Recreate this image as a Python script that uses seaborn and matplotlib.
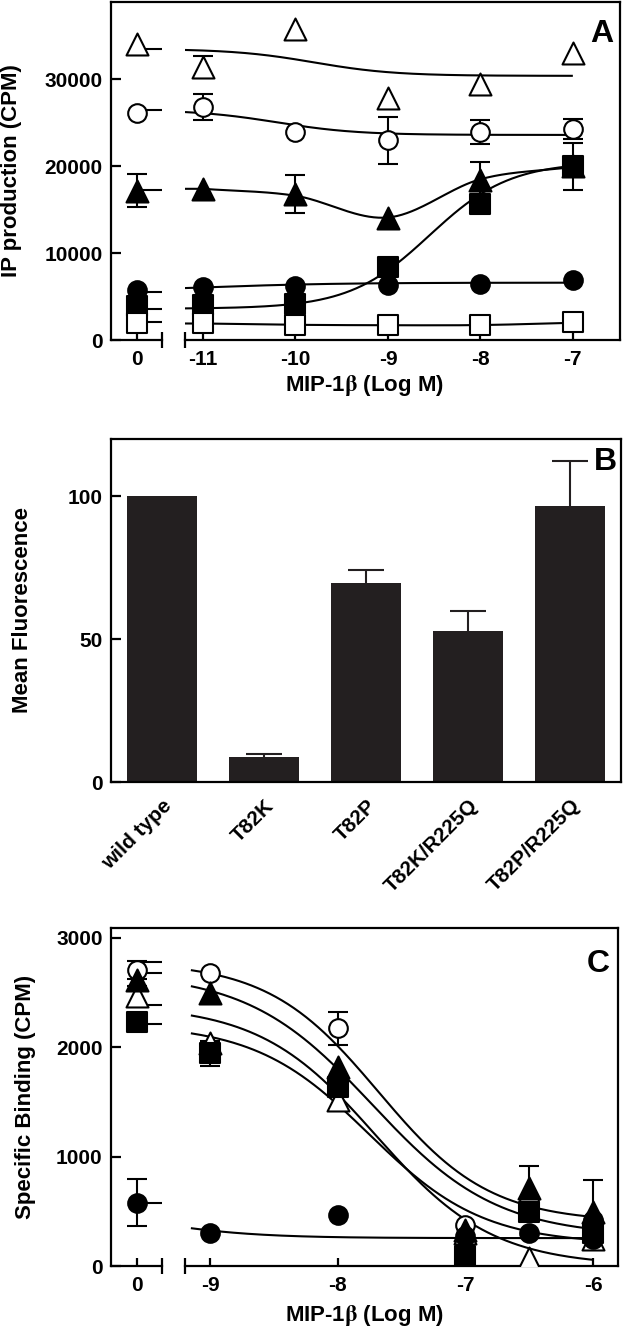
import numpy as np
import matplotlib
matplotlib.use("Agg")
import matplotlib.pyplot as plt
import seaborn as sns

# ---------------- panel A: IP production (CPM) ----------------
dose_a = [-11, -10, -9, -8, -7]

a_otri = [31400, 35800, 27900, 29500, 33000]
a_otri_err = [1300, 0, 0, 0, 0]
a_otri_zero = [34100, 0]
a_otri_fit = [33500, 30400, -9.8, 1.0]      # start, end, logEC50, slope

a_ocir = [26800, 23900, 23000, 23900, 24300]
a_ocir_err = [1500, 0, 2700, 1400, 1150]
a_ocir_zero = [26100, 0]
a_ocir_fit = [26500, 23600, -10.2, 1.0]

a_ftri = [17400, 16800, 14000, 18400, 20000]
a_ftri_err = [0, 2200, 0, 2100, 0]
a_ftri_zero = [17200, 1900]
a_ftri_knots = [17400, 16600, 14100, 18500, 19900]
a_ftri_base = 17300

a_fcir = [6150, 6200, 6300, 6500, 6900]
a_fcir_err = [0, 0, 0, 0, 0]
a_fcir_zero = [5750, 0]
a_fcir_fit = [5500, 6600, -11.0, 0.6]

a_fsq = [4000, 4200, 8400, 15700, 20000]
a_fsq_err = [0, 0, 0, 0, 2700]
a_fsq_zero = [3900, 0]
a_fsq_fit = [3600, 20500, -8.55, 1.0]

a_osq = [1900, 1700, 1700, 1700, 2100]
a_osq_err = [0, 0, 0, 0, 0]
a_osq_zero = [1900, 0]
a_osq_knots = [1900, 1750, 1700, 1720, 1980]
a_osq_base = 2100

# ---------------- panel B: surface expression ----------------
b_labels = ["wild type", "T82K", "T82P", "T82K/R225Q", "T82P/R225Q"]
b_values = [100, 8.8, 69.5, 52.9, 96.5]
b_errors = [0, 0.9, 4.5, 6.8, 15.8]

# ---------------- panel C: specific binding (CPM) ----------------
dose_c = [-9, -8, -7, -6.5, -6]

c_otri = [2037, 1518, 300, 70, 250]
c_otri_err = [0, 0, 0, 0, 0]
c_otri_zero = [2470, 90]
c_otri_fit = [2387, 0, -7.70, 0.95]

c_ocir = [2677, 2174, 375, 600, 420]
c_ocir_err = [0, 150, 0, 0, 0]
c_ocir_zero = [2707, 85]
c_ocir_fit = [2783, 400, -7.68, 1.0]

c_fsq = [1945, 1640, 90, 497, 302]
c_fsq_err = [115, 0, 0, 0, 0]
c_fsq_zero = [2230, 0]
c_fsq_fit = [2213, 200, -7.755, 0.97]

c_ftri = [2494, 1823, 330, 711, 497]
c_ftri_err = [0, 0, 0, 200, 290]
c_ftri_zero = [2616, 0]
c_ftri_fit = [2683, 270, -7.73, 0.89]

c_fcir = [299, 466, 270, 305, 250]
c_fcir_err = [0, 0, 0, 0, 0]
c_fcir_zero = [579, 215]
c_fcir_fit = [579, 255, -9.56, 1.0]

# ---------------- style ----------------
sns.set_theme(style="ticks", rc={
    "axes.linewidth": 1.6,
    "axes.edgecolor": "black",
    "axes.labelcolor": "black",
    "text.color": "black",
    "xtick.color": "black",
    "ytick.color": "black",
    "axes.unicode_minus": False,
    "lines.solid_capstyle": "butt",
    "mathtext.fontset": "stix",
})
plt.rcParams["font.family"] = ["Liberation Sans", "DejaVu Sans"]
plt.rcParams["font.weight"] = "bold"

W, H = 626, 1327
LW = 1.5
MARK = {"otri": ("^", "white", 250), "ftri": ("^", "black", 250),
        "ocir": ("o", "white", 180), "fcir": ("o", "black", 180),
        "osq": ("s", "white", 200), "fsq": ("s", "black", 200)}
XLABEL = r"MIP-1$\mathrm{\beta}$ (Log M)"


def box(l, t, r, b):
    return [l / W, 1 - b / H, (r - l) / W, (b - t) / H]


def logistic(x, start, end, mid, slope):
    return start + (end - start) / (1 + 10 ** ((mid - x) * slope))


def smooth(xk, yk, n=40):
    # catmull-rom line through the points
    xk, yk = np.asarray(xk, float), np.asarray(yk, float)
    px = np.concatenate([[2 * xk[0] - xk[1]], xk, [2 * xk[-1] - xk[-2]]])
    py = np.concatenate([[2 * yk[0] - yk[1]], yk, [2 * yk[-1] - yk[-2]]])
    t = np.linspace(0, 1, n)
    xs, ys = [], []
    for i in range(1, len(px) - 2):
        for arr, out in ((px, xs), (py, ys)):
            p0, p1, p2, p3 = arr[i - 1:i + 3]
            out.append(0.5 * (2 * p1 + (-p0 + p2) * t
                              + (2 * p0 - 5 * p1 + 4 * p2 - p3) * t ** 2
                              + (-p0 + 3 * p1 - 3 * p2 + p3) * t ** 3))
    return np.concatenate(xs), np.concatenate(ys)


def broken_axes(fig, l, t, r, b, split_l, split_r, xlim1, xticks1, ylim, yticks, xpad):
    frame = fig.add_axes(box(l, t, r, b))
    frame.set_xlim(0, 1)
    frame.set_ylim(0, 1)
    frame.set_xticks([])
    frame.set_yticks([])
    frame.spines["bottom"].set_visible(False)
    frame.patch.set_visible(False)
    ax0 = fig.add_axes(box(l, t, split_l, b))
    ax1 = fig.add_axes(box(split_r, t, r, b))
    for ax in (ax0, ax1):
        ax.patch.set_visible(False)
        for s in ("top", "left", "right"):
            ax.spines[s].set_visible(False)
        ax.set_ylim(ylim)
        ax.tick_params(axis="x", which="major", direction="in", length=6,
                       width=1.6, labelsize=15, pad=xpad)
        ax.tick_params(axis="x", which="minor", direction="inout", length=11, width=1.6)
    ax0.set_xlim(-1, 1)
    ax0.set_xticks([0])
    ax0.set_xticklabels(["0"])
    ax0.set_xticks([1], minor=True)
    ax0.set_yticks(yticks)
    ax0.set_yticklabels([str(v) for v in yticks])
    ax0.tick_params(axis="y", direction="in", length=7, width=1.6, labelsize=15, pad=6)
    ax1.set_xlim(xlim1)
    ax1.set_xticks(xticks1)
    ax1.set_xticklabels([f"{v:g}" for v in xticks1])
    ax1.set_xticks([xlim1[0]], minor=True)
    ax1.tick_params(axis="y", left=False, labelleft=False)
    for ax in (ax0, ax1):
        ax.set_xlabel("")
        ax.set_ylabel("")
    return frame, ax0, ax1


def draw_series(ax0, ax1, key, dose, vals, errs, zero, cx, cy, base):
    mk, face, size = MARK[key]
    dose = np.asarray(dose, float)
    vals = np.asarray(vals, float)
    errs = np.asarray(errs, float)
    sns.lineplot(x=cx, y=cy, ax=ax1, color="black", lw=LW, sort=False, zorder=2)
    ax0.hlines(base, 0, 1, color="black", lw=LW, zorder=2)
    m = errs > 0
    if m.any():
        ax1.errorbar(dose[m], vals[m], yerr=errs[m], fmt="none", ecolor="black",
                     elinewidth=LW, capsize=7.5, capthick=LW, zorder=2.5)
    if zero[1] > 0:
        ax0.errorbar([0], [zero[0]], yerr=[zero[1]], fmt="none", ecolor="black",
                     elinewidth=LW, capsize=7.5, capthick=LW, zorder=2.5)
    sns.scatterplot(x=dose, y=vals, ax=ax1, marker=mk, s=size, color=face,
                    edgecolor="black", linewidth=LW, zorder=3, legend=False)
    sns.scatterplot(x=[0.0], y=[zero[0]], ax=ax0, marker=mk, s=size, color=face,
                    edgecolor="black", linewidth=LW, zorder=3, legend=False)


fig = plt.figure(figsize=(W / 100, H / 100), dpi=100)

# ---------------- panel A ----------------
xl_a = (-11.195, -6.49)
frA, a0, a1 = broken_axes(fig, 111, 2, 620, 340, 162, 185, xl_a, dose_a,
                          (0, 38900), [0, 10000, 20000, 30000], 7)
xa = np.linspace(xl_a[0], -7, 200)
for key, vals, errs, zero, fit in [
        ("fcir", a_fcir, a_fcir_err, a_fcir_zero, a_fcir_fit),
        ("fsq", a_fsq, a_fsq_err, a_fsq_zero, a_fsq_fit)]:
    draw_series(a0, a1, key, dose_a, vals, errs, zero, xa, logistic(xa, *fit), fit[0])
for key, vals, errs, zero, knots, base in [
        ("ftri", a_ftri, a_ftri_err, a_ftri_zero, a_ftri_knots, a_ftri_base),
        ("osq", a_osq, a_osq_err, a_osq_zero, a_osq_knots, a_osq_base)]:
    sx, sy = smooth(dose_a, knots)
    sx = np.concatenate([[xl_a[0]], sx])
    sy = np.concatenate([[knots[0]], sy])
    draw_series(a0, a1, key, dose_a, vals, errs, zero, sx, sy, base)
for key, vals, errs, zero, fit in [
        ("ocir", a_ocir, a_ocir_err, a_ocir_zero, a_ocir_fit),
        ("otri", a_otri, a_otri_err, a_otri_zero, a_otri_fit)]:
    draw_series(a0, a1, key, dose_a, vals, errs, zero, xa, logistic(xa, *fit), fit[0])
frA.text(0.986, 0.882, "A", transform=frA.transAxes, ha="right", va="baseline",
         fontsize=23, fontweight="bold")

# ---------------- panel B ----------------
axB = fig.add_axes(box(111, 439, 621, 782))
sns.barplot(x=b_labels, y=b_values, color="#231f20", saturation=1, width=0.69,
            errorbar=None, linewidth=0, ax=axB)
bx = np.arange(len(b_labels))
be = np.asarray(b_errors, float)
mb = be > 0
eb = axB.errorbar(bx[mb], np.asarray(b_values)[mb], yerr=[np.zeros(mb.sum()), be[mb]],
                  fmt="none", ecolor="#231f20", elinewidth=LW, capsize=13, capthick=LW)
eb[1][0].set_visible(False)   # no cap on the bar top
axB.set_xlim(-0.5, 4.5)
axB.set_ylim(0, 120)
axB.set_yticks([0, 50, 100])
axB.set_yticklabels(["0", "50", "100"])
axB.tick_params(axis="y", direction="in", length=7, width=1.6, labelsize=15, pad=6)
axB.tick_params(axis="x", length=0, pad=10)
axB.set_xticks(bx)
axB.set_xticklabels(b_labels, rotation=45, ha="right", rotation_mode="anchor",
                    fontsize=15, fontweight="bold")
for s in axB.spines.values():
    s.set_visible(True)
    s.set_linewidth(1.6)
axB.set_xlabel("")
axB.set_ylabel("")
axB.text(0.992, 0.910, "B", transform=axB.transAxes, ha="right", va="baseline",
         fontsize=23, fontweight="bold")

# ---------------- panel C ----------------
xl_c = (-9.196, -5.804)
frC, c0, c1 = broken_axes(fig, 111, 928, 618, 1266, 162, 185, xl_c, [-9, -8, -7, -6],
                          (0, 3090), [0, 1000, 2000, 3000], 7)
xc = np.linspace(-9.15, -6, 200)
for key, vals, errs, zero, fit in [
        ("otri", c_otri, c_otri_err, c_otri_zero, c_otri_fit),
        ("ocir", c_ocir, c_ocir_err, c_ocir_zero, c_ocir_fit),
        ("fsq", c_fsq, c_fsq_err, c_fsq_zero, c_fsq_fit),
        ("ftri", c_ftri, c_ftri_err, c_ftri_zero, c_ftri_fit),
        ("fcir", c_fcir, c_fcir_err, c_fcir_zero, c_fcir_fit)]:
    draw_series(c0, c1, key, dose_c, vals, errs, zero, xc, logistic(xc, *fit), fit[0])
frC.text(0.984, 0.870, "C", transform=frC.transAxes, ha="right", va="baseline",
         fontsize=23, fontweight="bold")

# ---------------- axis titles ----------------
fig.text(12 / W, 1 - 171 / H, "IP production (CPM)", rotation=90, ha="center",
         va="center", fontsize=16, fontweight="bold")
fig.text(23 / W, 1 - 610 / H, "Mean Fluorescence", rotation=90, ha="center",
         va="center", fontsize=16, fontweight="bold")
fig.text(26 / W, 1 - 1097 / H, "Specific Binding (CPM)", rotation=90, ha="center",
         va="center", fontsize=16, fontweight="bold")
fig.text(365 / W, 1 - 385 / H, XLABEL, ha="center", va="center",
         fontsize=16, fontweight="bold")
fig.text(365 / W, 1 - 1315 / H, XLABEL, ha="center", va="center",
         fontsize=16, fontweight="bold")

fig.savefig("out.png", dpi=100)
